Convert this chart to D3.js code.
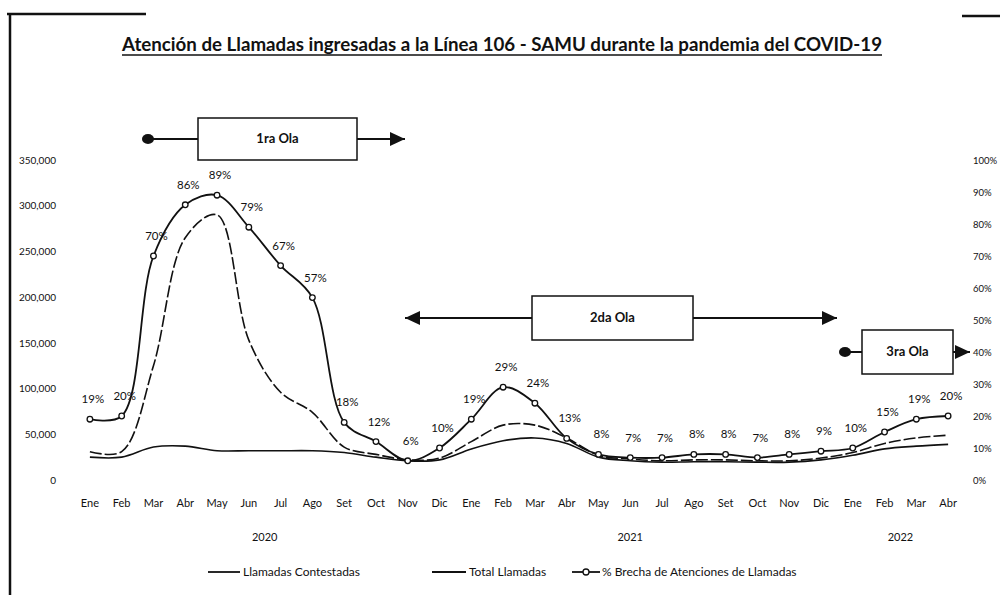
<!DOCTYPE html>
<html>
<head>
<meta charset="utf-8">
<script src="https://cdn.jsdelivr.net/npm/d3@7"></script>
<style>
  body { margin: 0; background: #fff; }
  text { font-family: Lato, "Open Sans", sans-serif; fill: #111; }
</style>
</head>
<body>
<div id="chart"></div>
<script>

// months Ene 2020 .. Abr 2022
var months = ["Ene","Feb","Mar","Abr","May","Jun","Jul","Ago","Set","Oct","Nov","Dic",
              "Ene","Feb","Mar","Abr","May","Jun","Jul","Ago","Set","Oct","Nov","Dic",
              "Ene","Feb","Mar","Abr"];
var years = ["2020", "2021", "2022"];
var yearFirst = [0, 12, 24];
var yearLast = [11, 22, 27];

var totalCalls = [31000, 31000, 125000, 265000, 290000, 153000, 96000, 74000, 36000, 28000, 22000, 24000,
                  42000, 60000, 60000, 46000, 27000, 23000, 21000, 22000, 22000, 21000, 21000, 24000,
                  30000, 40000, 46000, 49000];
var answeredCalls = [25000, 25000, 36000, 37000, 32000, 32000, 32000, 32000, 30000, 25000, 21000, 22000,
                     34000, 43000, 46000, 40000, 25000, 21000, 19500, 20000, 20000, 19500, 19500, 22000,
                     27000, 34000, 37000, 39000];
var gapPct = [19, 20, 70, 86, 89, 79, 67, 57, 18, 12, 6, 10,
              19, 29, 24, 13, 8, 7, 7, 8, 8, 7, 8, 9,
              10, 15, 19, 20];

var leftTicks = [0, 50000, 100000, 150000, 200000, 250000, 300000, 350000];
var rightTicks = [0, 10, 20, 30, 40, 50, 60, 70, 80, 90, 100];

var width = 1000, height = 596;

var svg = d3.select("#chart").append("svg")
    .attr("width", width)
    .attr("height", height);

var x = d3.scaleBand().domain(d3.range(months.length)).range([74, 964]);
var yCalls = d3.scaleLinear().domain([0, 350000]).range([480, 160]);
var yPct = d3.scaleLinear().domain([0, 100]).range([480, 160]);

function cx(i) { return x(i) + x.bandwidth() / 2; }

// scanned page frame
svg.append("path")
    .attr("d", "M7,14 L146,14 M10,14 L10,595")
    .attr("stroke", "#111").attr("stroke-width", 2.5).attr("fill", "none");
svg.append("line")
    .attr("x1", 962).attr("x2", 1000).attr("y1", 16).attr("y2", 16)
    .attr("stroke", "#111").attr("stroke-width", 2.5);

// title
svg.append("text")
    .attr("x", 122).attr("y", 51)
    .attr("textLength", 760).attr("lengthAdjust", "spacingAndGlyphs")
    .style("font-size", "18px").style("font-weight", "bold")
    .text("Atención de Llamadas ingresadas a la Línea 106 - SAMU durante la pandemia del COVID-19");
svg.append("line")
    .attr("x1", 122).attr("x2", 882).attr("y1", 55).attr("y2", 55)
    .attr("stroke", "#111").attr("stroke-width", 1.3);

// axes
var leftAxis = d3.axisLeft(yCalls)
    .tickValues(leftTicks)
    .tickSize(0).tickPadding(6)
    .tickFormat(function(d) { return d == 0 ? "0" : d3.format(",")(d); });
svg.append("g").attr("transform", "translate(62,0)").call(leftAxis)
    .call(function(g) { g.select(".domain").remove(); })
    .selectAll("text").style("font-size", "10px").style("font-family", "Lato, sans-serif");

var rightAxis = d3.axisRight(yPct)
    .tickValues(rightTicks)
    .tickSize(0).tickPadding(3)
    .tickFormat(function(d) { return d + "%"; });
svg.append("g").attr("transform", "translate(970,0)").call(rightAxis)
    .call(function(g) { g.select(".domain").remove(); })
    .selectAll("text").style("font-size", "9.5px").style("font-family", "Lato, sans-serif");

var bottomAxis = d3.axisBottom(x)
    .tickSize(0).tickPadding(3)
    .tickFormat(function(i) { return months[i]; });
svg.append("g").attr("transform", "translate(0,496)").call(bottomAxis)
    .call(function(g) { g.select(".domain").remove(); })
    .selectAll("text").style("font-size", "11px").style("font-family", "Lato, sans-serif");

svg.selectAll(".yearLabel")
    .data(years)
    .enter().append("text").attr("class", "yearLabel")
    .attr("x", function(d, k) { return (cx(yearFirst[k]) + cx(yearLast[k])) / 2; })
    .attr("y", 541)
    .attr("text-anchor", "middle")
    .style("font-size", "11px")
    .text(function(d) { return d; });

// lines (smoothed like the excel original)
var curve = d3.curveCatmullRom.alpha(0.5);

var callsLine = d3.line()
    .x(function(d, i) { return cx(i); })
    .y(function(d) { return yCalls(d); })
    .curve(curve);

var pctLine = d3.line()
    .x(function(d, i) { return cx(i); })
    .y(function(d) { return yPct(d); })
    .curve(curve);

svg.append("path")
    .datum(answeredCalls)
    .attr("d", callsLine)
    .attr("fill", "none").attr("stroke", "#111").attr("stroke-width", 1.6);

svg.append("path")
    .datum(totalCalls)
    .attr("d", callsLine)
    .attr("fill", "none").attr("stroke", "#111").attr("stroke-width", 1.6)
    .attr("stroke-dasharray", "12,3");

svg.append("path")
    .datum(gapPct)
    .attr("d", pctLine)
    .attr("fill", "none").attr("stroke", "#111").attr("stroke-width", 1.8);

svg.selectAll(".pctDot")
    .data(gapPct)
    .enter().append("circle").attr("class", "pctDot")
    .attr("cx", function(d, i) { return cx(i); })
    .attr("cy", function(d) { return yPct(d); })
    .attr("r", 2.8)
    .attr("fill", "#fff").attr("stroke", "#111").attr("stroke-width", 1.3);

svg.selectAll(".pctLabel")
    .data(gapPct)
    .enter().append("text").attr("class", "pctLabel")
    .attr("x", function(d, i) { return cx(i) + 3; })
    .attr("y", function(d) { return yPct(d) - 16; })
    .attr("text-anchor", "middle")
    .style("font-size", "11.5px")
    .text(function(d) { return d + "%"; });

// wave annotations
function arrowHead(xTip, y, dir) {
    svg.append("path")
        .attr("d", "M" + xTip + "," + y + " L" + (xTip - dir * 15) + "," + (y - 7) +
                   " L" + (xTip - dir * 15) + "," + (y + 7) + " Z")
        .attr("fill", "#111");
}

function wave(label, xStart, xEnd, bx0, bx1, yc, bh, startDot) {
    svg.append("line")
        .attr("x1", xStart).attr("x2", xEnd).attr("y1", yc).attr("y2", yc)
        .attr("stroke", "#111").attr("stroke-width", 2);
    if (startDot) {
        svg.append("ellipse").attr("cx", xStart).attr("cy", yc).attr("rx", 6).attr("ry", 5).attr("fill", "#111");
    } else {
        arrowHead(xStart, yc, -1);
    }
    arrowHead(xEnd, yc, 1);
    svg.append("rect")
        .attr("x", bx0).attr("y", yc - bh / 2).attr("width", bx1 - bx0).attr("height", bh)
        .attr("fill", "#fff").attr("stroke", "#111").attr("stroke-width", 1.5);
    svg.append("text")
        .attr("x", (bx0 + bx1) / 2).attr("y", yc + 4)
        .attr("text-anchor", "middle")
        .style("font-size", "13px").style("font-weight", "bold")
        .text(label);
}

wave("1ra Ola", 148, 405, 198, 357, 139, 42, true);
wave("2da Ola", 405, 837, 532, 693, 318, 44, false);
wave("3ra Ola", 845, 970, 862, 953, 352, 44, true);

// legend
var legendY = 572;
var lg = svg.append("g");
lg.append("line").attr("x1", 208).attr("x2", 240).attr("y1", legendY).attr("y2", legendY)
    .attr("stroke", "#111").attr("stroke-width", 1.8);
lg.append("text").attr("x", 243).attr("y", legendY + 4).style("font-size", "12px").text("Llamadas Contestadas");
lg.append("line").attr("x1", 432).attr("x2", 466).attr("y1", legendY).attr("y2", legendY)
    .attr("stroke", "#111").attr("stroke-width", 1.8);
lg.append("text").attr("x", 469).attr("y", legendY + 4).style("font-size", "12px").text("Total Llamadas");
lg.append("line").attr("x1", 572).attr("x2", 600).attr("y1", legendY).attr("y2", legendY)
    .attr("stroke", "#111").attr("stroke-width", 1.8);
lg.append("circle").attr("cx", 586).attr("cy", legendY).attr("r", 3)
    .attr("fill", "#fff").attr("stroke", "#111").attr("stroke-width", 1.3);
lg.append("text").attr("x", 602).attr("y", legendY + 4).style("font-size", "12px").text("% Brecha de Atenciones de Llamadas");

</script>
</body>
</html>
